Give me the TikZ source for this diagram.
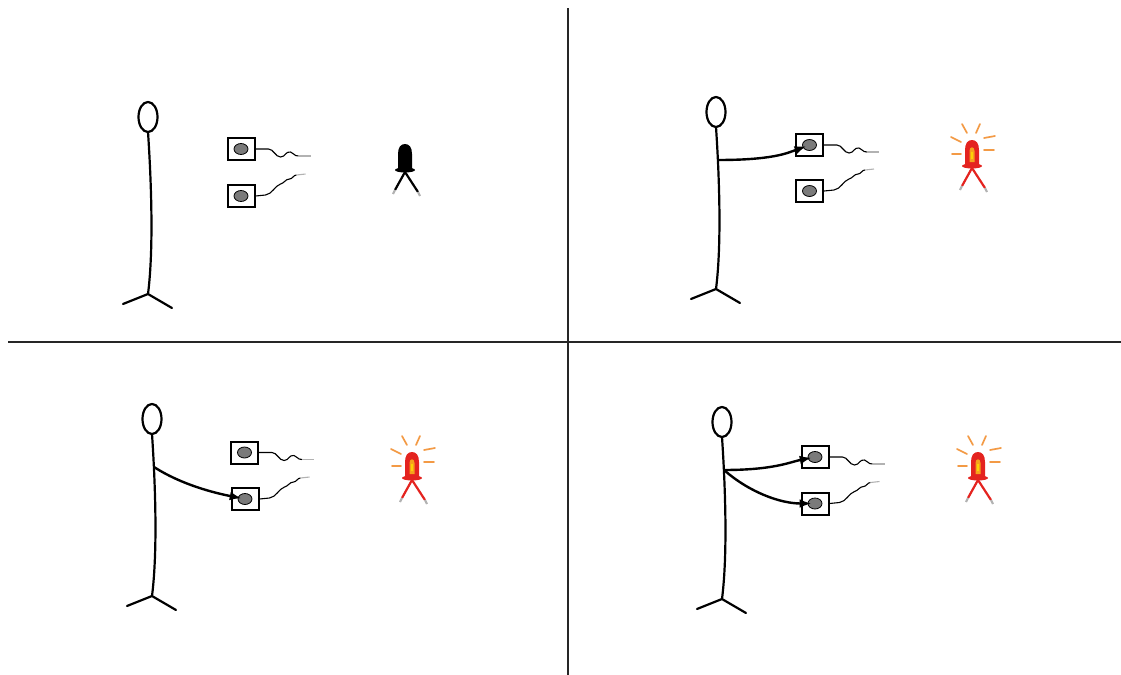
\documentclass[tikz,border=0pt]{standalone}
\usepackage{tikz}
\usetikzlibrary{arrows.meta,positioning,shapes.geometric}

\definecolor{ledred}{HTML}{E4231F}
\definecolor{ledcore}{HTML}{F6A21C}
\definecolor{glowcol}{HTML}{F39A45}
\definecolor{knobgrey}{HTML}{7A7A7A}

% stick figure, origin at the centre of the head
\tikzset{
  pics/person/.style={code={
    \draw[limb] (0,0) ellipse [x radius=9.5, y radius=15];
    \coordinate (-neck) at (0,15);
    \coordinate (-sh) at (2,48);
    \coordinate (-hip) at (0,177);
    \draw[limb] (-neck) .. controls (3,60) and (6,130) .. (-hip);
    \draw[limb] (-25,187) -- (-hip) -- (24,191);
  }},
  % led, origin at the tip of the bulb
  pics/lamp/.style={code={
    \draw[line width=1.1pt,#1] (0,28) -- (-10,46);
    \draw[line width=1.1pt,#1] (0,28) -- (13,48);
    \draw[line width=1.1pt,gray!60] (-10,46) -- (-12,50);
    \draw[line width=1.1pt,gray!60] (13,48) -- (15,52);
    \fill[#1] (-7,25) -- (-7,10) .. controls (-7,3) and (-4,0) .. (0,0)
      .. controls (4,0) and (7,3) .. (7,10) -- (7,25) -- cycle;
    \fill[#1] (0,26) ellipse [x radius=10, y radius=2.5];
  }},
  pics/glow/.style={code={
    \fill[ledcore] (-2.5,22) -- (-2.5,11) .. controls (-2.5,6) and (2.5,6) .. (2.5,11) -- (2.5,22) -- cycle;
    \fill[yellow!70!orange] (-1,19) -- (-1,12) -- (1,12) -- (1,19) -- cycle;
    \draw[ray] (-10,-16) -- (-5,-7);
    \draw[ray] (8,-16) -- (4,-7);
    \draw[ray] (-21,-3) -- (-11,2);
    \draw[ray] (12,-2) -- (23,-4);
    \draw[ray] (-20,14) -- (-11,14);
    \draw[ray] (12,10) -- (22,10);
  }},
  % cables leaving the push buttons
  pics/wireflat/.style={code={
    \draw[wire] (0,0) -- (13,0) .. controls (18,0) and (20,8) .. (25,8)
      .. controls (30,8) and (30,2) .. (35,3) .. controls (39,4) and (38,7) .. (43,7);
    \draw[wire,gray!60] (43,7) -- (55,7);
  }},
  pics/wirerise/.style={code={
    \draw[wire] (0,0) -- (10,-1) .. controls (17,-2) and (19,-10) .. (25,-12)
      .. controls (29,-13) and (30,-17) .. (34,-17) .. controls (37,-17) and (38,-21) .. (41,-21);
    \draw[wire,gray!60] (41,-21) -- (50,-22);
  }}
}

\begin{document}
\begin{tikzpicture}[x=0.5pt, y=-0.5pt, >=Latex,
  limb/.style={line width=1.1pt, line cap=round},
  button/.style={rectangle, draw, line width=1pt, minimum width=13.5pt, minimum height=11pt, inner sep=0pt},
  knob/.style={ellipse, draw, line width=0.4pt, fill=knobgrey, minimum width=7pt, minimum height=5.5pt, inner sep=0pt},
  arm/.style={line width=1.2pt, shorten >=-2pt, -{Latex[length=6pt,width=4.4pt]}},
  wire/.style={line width=0.55pt},
  ray/.style={glowcol, line width=0.85pt, line cap=round},
  divider/.style={line width=1.4pt, black!85}]
  \useasboundingbox (0,0) rectangle (1121,675);

  % quadrants
  \coordinate (vtop) at (568,8);
  \coordinate (vbot) at (568,675);
  \coordinate (hl) at (8,342);
  \coordinate (hr) at (1121,342);
  \draw[divider] (vtop) -- (vbot);
  \draw[divider] (hl) -- (hr);

  % nobody pushes
  \pic (q1) at (148,117) {person};
  \node[button] (b11) at (241,149) {};
  \node[knob] (k11) at (b11) {};
  \node[button] (b12) at (241,196) {};
  \node[knob] (k12) at (b12) {};
  \pic at (b11.east) {wireflat};
  \pic at (b12.east) {wirerise};
  \pic at (405,144) {lamp=black};

  % upper button pushed
  \pic (q2) at (716,112) {person};
  \node[button] (b21) at (809.5,145) {};
  \node[knob] (k21) at (b21) {};
  \node[button] (b22) at (809.5,191) {};
  \node[knob] (k22) at (b22) {};
  \pic at (b21.east) {wireflat};
  \pic at (b22.east) {wirerise};
  \draw[arm] (q2-sh) .. controls +(55,0) and +(-22,8) .. (k21);
  \pic at (972,140) {lamp=ledred};
  \pic at (972,140) {glow};

  % lower button pushed
  \pic (q3) at (152,419) {person};
  \node[button] (b31) at (244.5,452.5) {};
  \node[knob] (k31) at (b31) {};
  \node[button] (b32) at (245,499) {};
  \node[knob] (k32) at (b32) {};
  \pic at (b31.east) {wireflat};
  \pic at (b32.east) {wirerise};
  \draw[arm] (q3-sh) .. controls +(28,18) and +(-30,-6) .. (k32);
  \pic at (412,452) {lamp=ledred};
  \pic at (412,452) {glow};

  % both pushed
  \pic (q4) at (722,422) {person};
  \node[button] (b41) at (815,457) {};
  \node[knob] (k41) at (b41) {};
  \node[button] (b42) at (815,503.5) {};
  \node[knob] (k42) at (b42) {};
  \pic at (b41.east) {wireflat};
  \pic at (b42.east) {wirerise};
  \draw[arm] (q4-sh) .. controls +(50,0) and +(-25,5) .. (k41);
  \draw[arm] (q4-sh) .. controls +(25,22) and +(-35,0) .. (k42);
  \pic at (978,452) {lamp=ledred};
  \pic at (978,452) {glow};
\end{tikzpicture}
\end{document}
